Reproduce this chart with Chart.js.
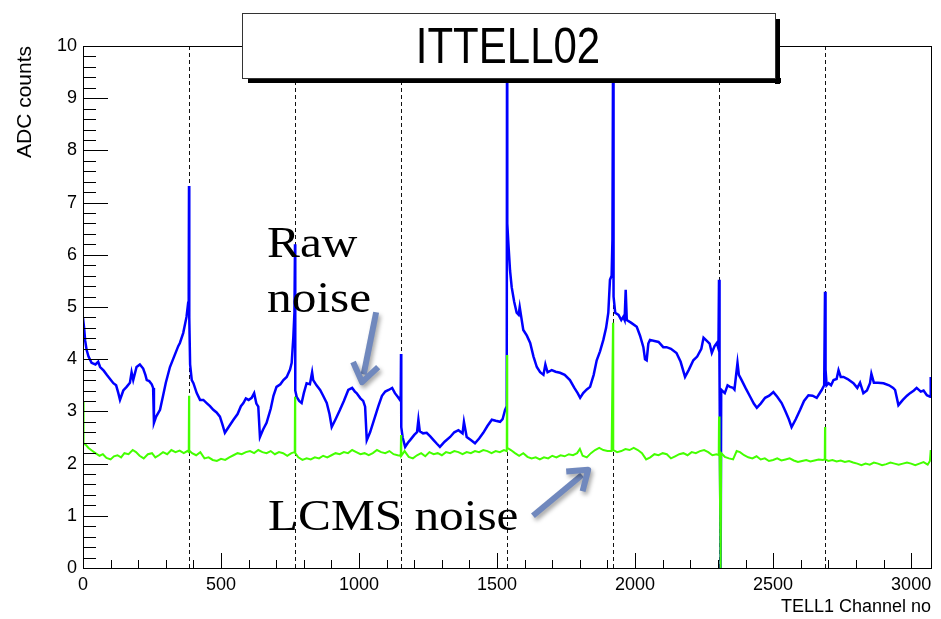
<!DOCTYPE html>
<html>
<head>
<meta charset="utf-8">
<script src="https://cdn.jsdelivr.net/npm/chart.js@4.4.1/dist/chart.umd.min.js"></script>
<style>
  html, body { margin: 0; padding: 0; background: #fff; }
  #wrap { width: 941px; height: 619px; position: relative; }
</style>
</head>
<body>
<div id="wrap"><canvas id="c" width="941" height="619"></canvas></div>
<script>
// ---------- DATA ----------
const chartTitle = "ITTELL02";
const xAxisTitle = "TELL1 Channel no";
const yAxisTitle = "ADC counts";
const xTickLabels = [0, 500, 1000, 1500, 2000, 2500, 3000];
const yTickLabels = [0, 1, 2, 3, 4, 5, 6, 7, 8, 9, 10];
const boardBoundaries = [384, 768, 1152, 1536, 1920, 2304, 2688];

// Raw noise (blue): channel / ADC counts
const rawChannels = [0,4,8,13,20,31,45,55,62,75,86,98,110,120,128,134,146,158,170,176,182,194,206,218,226,231,240,249,254,257,265,279,290,300,315,330,345,351,363,375,381,383,384,385,388,394,400,412,424,436,448,460,472,484,496,505,514,530,545,560,572,581,590,600,611,620,628,635,641,652,665,680,690,701,715,726,738,750,756,762,766,768,769,774,783,792,800,810,822,830,834,846,859,870,883,893,901,915,931,945,961,975,985,991,1005,1015,1022,1028,1040,1058,1070,1083,1095,1107,1120,1130,1140,1148,1151,1152,1153,1158,1167,1177,1185,1200,1210,1215,1220,1232,1245,1258,1270,1282,1293,1310,1330,1345,1360,1375,1380,1390,1405,1420,1435,1450,1465,1481,1495,1511,1520,1529,1535,1536,1537,1541,1547,1553,1562,1571,1578,1582,1595,1608,1620,1632,1644,1656,1668,1675,1683,1698,1712,1728,1745,1764,1780,1792,1801,1812,1825,1837,1850,1861,1873,1885,1895,1903,1909,1915,1918,1920,1922,1928,1940,1950,1957,1962,1966,1970,1985,2006,2018,2030,2036,2042,2048,2054,2070,2085,2102,2114,2130,2150,2165,2181,2195,2211,2225,2240,2248,2260,2270,2278,2288,2296,2302,2304,2306,2310,2312,2313,2325,2335,2344,2355,2360,2371,2376,2386,2400,2417,2430,2441,2455,2471,2486,2501,2515,2531,2545,2557,2567,2582,2598,2612,2628,2643,2658,2676,2685,2688,2690,2694,2701,2710,2719,2730,2737,2745,2755,2770,2791,2805,2815,2827,2840,2851,2856,2865,2880,2900,2920,2935,2942,2954,2970,2985,2996,3010,3020,3035,3045,3057,3069,3071];
const rawNoise = [4.79,4.6,4.35,4.18,4.05,3.93,3.9,3.95,3.85,3.78,3.7,3.62,3.54,3.5,3.35,3.22,3.4,3.47,3.55,3.75,3.6,3.85,3.9,3.82,3.7,3.6,3.58,3.52,3.45,2.78,2.9,3.03,3.3,3.55,3.85,4.05,4.25,4.31,4.5,4.81,5.08,5.3,7.32,4.8,3.9,3.6,3.54,3.35,3.22,3.22,3.16,3.1,3.03,2.98,2.9,2.75,2.59,2.72,2.84,2.95,3.1,3.16,3.25,3.22,3.26,3.35,3.15,3.09,2.51,2.65,2.78,3.05,3.3,3.47,3.52,3.6,3.66,3.8,3.93,4.43,4.9,6.2,3.4,3.28,3.2,3.16,3.35,3.54,3.52,3.75,3.6,3.5,3.41,3.3,3.16,2.95,2.7,2.85,3.03,3.2,3.41,3.45,3.38,3.35,3.25,3.2,3.09,2.45,2.6,2.9,3.1,3.3,3.38,3.41,3.45,3.35,3.28,3.22,3.3,4.1,2.7,2.5,2.32,2.4,2.45,2.55,2.6,2.84,2.62,2.58,2.59,2.52,2.45,2.38,2.32,2.42,2.51,2.6,2.64,2.58,2.8,2.51,2.45,2.39,2.48,2.59,2.72,2.84,2.82,2.8,2.85,3.03,3.1,9.9,6.6,6.22,5.7,5.38,5.1,4.89,4.85,5.0,4.56,4.45,4.31,4.05,3.85,3.75,3.7,3.9,3.75,3.79,3.76,3.74,3.7,3.6,3.45,3.35,3.26,3.35,3.42,3.47,3.7,3.98,4.15,4.37,4.6,4.89,5.52,5.6,6.3,9.6,5.2,4.89,4.85,4.75,4.81,4.75,5.33,4.75,4.7,4.62,4.45,4.23,4.0,3.98,4.3,4.37,4.35,4.33,4.23,4.23,4.2,4.12,3.95,3.66,3.8,3.98,4.05,4.2,4.41,4.35,4.3,4.12,4.25,4.31,4.2,5.52,3.6,0,3.4,3.41,3.35,3.5,3.47,3.45,3.42,3.93,3.7,3.6,3.45,3.28,3.15,3.07,3.15,3.26,3.3,3.37,3.28,3.16,3.0,2.85,2.7,2.85,3.03,3.2,3.31,3.3,3.26,3.41,3.5,5.29,3.8,3.5,3.54,3.5,3.6,3.62,3.79,3.66,3.66,3.62,3.54,3.45,3.55,3.35,3.4,3.54,3.72,3.55,3.55,3.54,3.5,3.45,3.41,3.12,3.22,3.3,3.35,3.4,3.45,3.38,3.4,3.31,3.28,3.66];

// LCMS noise (green): channel / ADC counts
const lcmsChannels = [0,2,10,20,32,45,60,72,85,100,112,125,138,150,165,180,192,205,220,235,250,262,275,290,305,320,335,350,365,378,383,384,385,395,410,425,440,455,470,485,500,515,530,545,560,575,590,605,620,635,650,665,680,695,710,725,740,755,767,768,769,780,795,810,825,840,855,870,885,900,915,930,945,960,975,990,1005,1020,1035,1050,1065,1080,1095,1110,1125,1140,1151,1152,1153,1165,1180,1195,1210,1225,1240,1255,1270,1285,1300,1315,1330,1345,1360,1375,1390,1405,1420,1435,1450,1465,1480,1495,1510,1525,1535,1536,1537,1550,1565,1580,1595,1610,1625,1640,1655,1670,1685,1700,1715,1730,1745,1760,1775,1790,1800,1810,1825,1840,1855,1870,1885,1900,1915,1920,1921,1935,1950,1965,1980,1995,2010,2025,2040,2055,2070,2085,2100,2115,2130,2145,2160,2175,2190,2205,2220,2235,2250,2265,2280,2295,2303,2304,2306,2310,2312,2325,2340,2355,2368,2380,2395,2410,2425,2440,2455,2470,2485,2500,2515,2530,2545,2560,2575,2590,2605,2620,2635,2650,2665,2680,2687,2688,2689,2700,2715,2730,2745,2760,2775,2790,2805,2820,2835,2850,2865,2880,2895,2910,2925,2940,2955,2970,2985,3000,3015,3030,3045,3060,3068,3071];
const lcmsNoise = [3.2,2.38,2.36,2.3,2.25,2.2,2.15,2.18,2.11,2.08,2.14,2.16,2.12,2.2,2.18,2.26,2.22,2.15,2.1,2.18,2.2,2.12,2.16,2.22,2.18,2.26,2.22,2.25,2.2,2.24,2.22,3.3,2.25,2.2,2.16,2.22,2.1,2.12,2.07,2.05,2.09,2.07,2.12,2.16,2.2,2.18,2.22,2.24,2.2,2.26,2.22,2.2,2.24,2.18,2.22,2.2,2.15,2.2,2.22,3.28,2.2,2.12,2.07,2.1,2.08,2.12,2.1,2.15,2.12,2.16,2.2,2.18,2.22,2.2,2.26,2.22,2.18,2.2,2.16,2.2,2.26,2.22,2.2,2.24,2.18,2.16,2.15,2.55,2.15,2.24,2.13,2.1,2.16,2.2,2.14,2.22,2.18,2.2,2.16,2.22,2.2,2.24,2.22,2.18,2.22,2.2,2.24,2.22,2.26,2.24,2.2,2.24,2.22,2.26,2.24,4.08,2.3,2.26,2.2,2.15,2.2,2.13,2.1,2.12,2.08,2.12,2.1,2.15,2.12,2.16,2.14,2.18,2.16,2.2,2.28,2.15,2.12,2.2,2.26,2.3,2.26,2.24,2.24,4.7,2.26,2.22,2.24,2.28,2.26,2.3,2.26,2.2,2.08,2.12,2.18,2.16,2.2,2.18,2.1,2.14,2.18,2.2,2.16,2.22,2.2,2.24,2.26,2.22,2.16,2.18,2.16,2.9,2.18,0,2.2,2.13,2.1,2.08,2.24,2.22,2.16,2.12,2.1,2.14,2.08,2.1,2.05,2.07,2.1,2.06,2.08,2.1,2.06,2.03,2.05,2.07,2.04,2.06,2.08,2.07,2.08,2.7,2.08,2.05,2.07,2.04,2.06,2.03,2.05,2.02,2.0,1.97,2.0,1.98,2.02,2.0,1.97,1.99,2.02,2.0,1.98,2.0,2.02,2.0,1.97,2.0,2.03,1.98,2.05,2.26];

// Annotations (data coordinates)
const rawLabelLines = ["Raw", "noise"];
const lcmsLabel = "LCMS noise";

// ---------- CHART ----------
const toXY = (xs, ys) => xs.map((x, i) => ({ x: x, y: ys[i] }));

const decor = {
  id: 'decor',
  beforeDatasetsDraw(chart) {
    const { ctx, chartArea: a, scales: { x } } = chart;
    ctx.save();
    ctx.strokeStyle = '#111';
    ctx.lineWidth = 1;
    ctx.setLineDash([4, 3]);
    boardBoundaries.forEach(b => {
      const px = Math.round(x.getPixelForValue(b)) + 0.5;
      ctx.beginPath();
      ctx.moveTo(px, a.top);
      ctx.lineTo(px, a.bottom);
      ctx.stroke();
    });
    ctx.restore();
  },
  afterDraw(chart) {
    const { ctx, chartArea: a, scales: { x, y } } = chart;
    ctx.save();
    // frame
    ctx.strokeStyle = '#000';
    ctx.lineWidth = 1;
    ctx.strokeRect(Math.round(a.left) + 0.5, Math.round(a.top) + 0.5,
                   Math.round(a.right - a.left), Math.round(a.bottom - a.top));
    // inward y ticks
    for (let i = 0; i <= 50; i++) {
      const v = i * 0.2;
      const py = Math.round(y.getPixelForValue(v)) + 0.5;
      const len = (i % 5 === 0) ? 25 : 13;
      ctx.beginPath();
      ctx.moveTo(a.left, py);
      ctx.lineTo(a.left + len, py);
      ctx.stroke();
    }
    // inward x ticks
    for (let v = 0; v <= x.max; v += 100) {
      const px = Math.round(x.getPixelForValue(v)) + 0.5;
      const len = (v % 500 === 0) ? 15 : 8;
      ctx.beginPath();
      ctx.moveTo(px, a.bottom);
      ctx.lineTo(px, a.bottom - len);
      ctx.stroke();
    }
    // axis titles
    ctx.fillStyle = '#000';
    ctx.font = '18px "Liberation Sans", Arial, sans-serif';
    ctx.textAlign = 'right';
    ctx.textBaseline = 'alphabetic';
    ctx.fillText(xAxisTitle, a.right, 612);
    ctx.save();
    ctx.translate(31, a.top);
    ctx.rotate(-Math.PI / 2);
    ctx.font = '21px "Liberation Sans", Arial, sans-serif';
    ctx.textAlign = 'right';
    ctx.fillText(yAxisTitle, 0, 0);
    ctx.restore();

    // title box with shadow
    const bx = 242, by = 13, bw = 533, bh = 65;
    ctx.fillStyle = '#000';
    ctx.fillRect(bx + 6, by + bh, bw, 5);
    ctx.fillRect(bx + bw, by + 6, 5, bh);
    ctx.fillStyle = '#fff';
    ctx.fillRect(bx, by, bw, bh);
    ctx.strokeStyle = '#333';
    ctx.lineWidth = 1;
    ctx.strokeRect(bx + 0.5, by + 0.5, bw, bh);
    ctx.save();
    ctx.fillStyle = '#000';
    ctx.font = '50px "Liberation Sans", Arial, sans-serif';
    ctx.textAlign = 'center';
    ctx.translate(508, 63);
    ctx.scale(0.84, 1);
    ctx.fillText(chartTitle, 0, 0);
    ctx.restore();

    // annotation texts
    const serif = '44px "Liberation Serif", "Times New Roman", serif';
    const drawText = (t, cx, cy) => {
      ctx.save();
      ctx.font = serif;
      ctx.fillStyle = '#000';
      ctx.textAlign = 'left';
      ctx.translate(x.getPixelForValue(cx), y.getPixelForValue(cy));
      ctx.scale(1.12, 1);
      ctx.fillText(t, 0, 0);
      ctx.restore();
    };
    drawText(rawLabelLines[0], 667, 5.96);
    drawText(rawLabelLines[1], 667, 4.90);
    drawText(lcmsLabel, 670, 0.73);

    // arrows
    const arrow = (x0, y0, x1, y1) => {
      const p0 = [x.getPixelForValue(x0), y.getPixelForValue(y0)];
      const p1 = [x.getPixelForValue(x1), y.getPixelForValue(y1)];
      const ang = Math.atan2(p1[1] - p0[1], p1[0] - p0[0]);
      ctx.save();
      ctx.shadowColor = 'rgba(0,0,0,0.35)';
      ctx.shadowBlur = 4;
      ctx.shadowOffsetX = 2;
      ctx.shadowOffsetY = 3;
      ctx.strokeStyle = '#7088bd';
      ctx.lineWidth = 6;
      ctx.lineCap = 'butt';
      ctx.lineJoin = 'round';
      const back = 8;
      ctx.beginPath();
      ctx.moveTo(p0[0], p0[1]);
      ctx.lineTo(p1[0] - back * Math.cos(ang), p1[1] - back * Math.sin(ang));
      ctx.stroke();
      const hl = 22, hw = 0.62;
      ctx.beginPath();
      ctx.moveTo(p1[0] - hl * Math.cos(ang - hw), p1[1] - hl * Math.sin(ang - hw));
      ctx.lineTo(p1[0], p1[1]);
      ctx.lineTo(p1[0] - hl * Math.cos(ang + hw), p1[1] - hl * Math.sin(ang + hw));
      ctx.stroke();
      ctx.restore();
    };
    arrow(1062, 4.90, 1011, 3.56);
    arrow(1630, 1.00, 1830, 1.88);
    ctx.restore();
  }
};

new Chart(document.getElementById('c'), {
  type: 'line',
  data: {
    datasets: [
      { label: 'LCMS noise', data: toXY(lcmsChannels, lcmsNoise), borderColor: '#44ff00',
        borderWidth: 2, pointRadius: 0, tension: 0, fill: false },
      { label: 'Raw noise', data: toXY(rawChannels, rawNoise), borderColor: '#0000ff',
        borderWidth: 2.5, pointRadius: 0, tension: 0, fill: false }
    ]
  },
  options: {
    responsive: false,
    animation: false,
    events: [],
    layout: { padding: { left: 0, right: 10, top: 46, bottom: 0 } },
    plugins: { legend: { display: false }, tooltip: { enabled: false }, title: { display: false } },
    scales: {
      x: {
        type: 'linear', min: 0, max: 3072,
        grid: { display: false, drawTicks: false },
        border: { display: false },
        afterBuildTicks: s => { s.ticks = xTickLabels.map(v => ({ value: v })); },
        afterFit: s => { s.height = 51; },
        ticks: { color: '#000', padding: 6, maxRotation: 0, autoSkip: false,
                 callback: v => String(v),
                 font: { family: '"Liberation Sans", Arial, sans-serif', size: 18 } }
      },
      y: {
        type: 'linear', min: 0, max: 10,
        grid: { display: false, drawTicks: false },
        border: { display: false },
        afterBuildTicks: s => { s.ticks = yTickLabels.map(v => ({ value: v })); },
        afterFit: s => { s.width = 83; },
        ticks: { color: '#000', padding: 6, autoSkip: false,
                 callback: v => String(v),
                 font: { family: '"Liberation Sans", Arial, sans-serif', size: 18 } }
      }
    }
  },
  plugins: [decor]
});
</script>
</body>
</html>
